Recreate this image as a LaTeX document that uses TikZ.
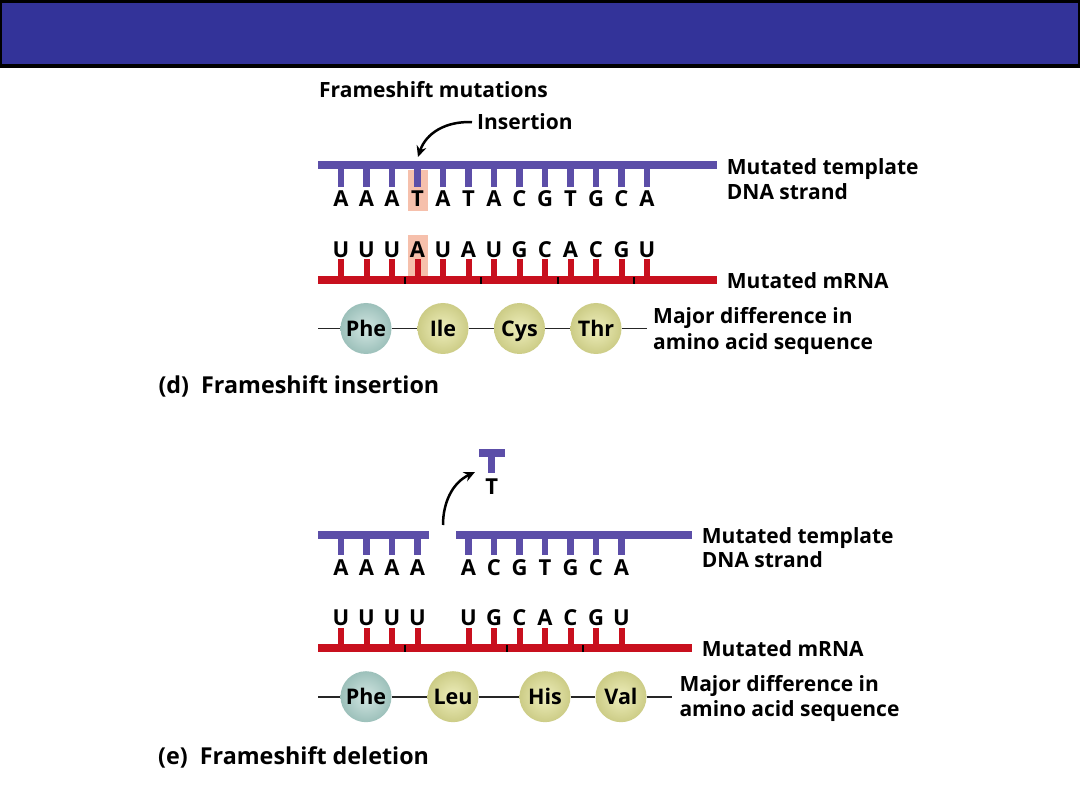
\documentclass[tikz,border=0pt]{standalone}
\usepackage{fontspec}
\setmainfont{Open Sans}
\usetikzlibrary{arrows.meta}
\definecolor{hdrblue}{RGB}{51,51,153}
\definecolor{dnapurple}{RGB}{92,78,168}
\definecolor{rnared}{RGB}{200,16,30}
\definecolor{hilite}{RGB}{246,192,172}
\definecolor{pheIn}{RGB}{210,230,226}
\definecolor{pheOut}{RGB}{156,192,186}
\definecolor{yIn}{RGB}{238,238,188}
\definecolor{yOut}{RGB}{204,204,134}
\begin{document}
\begin{tikzpicture}[x=1pt,y=-1pt,
  lbl/.style={anchor=base west, inner sep=0pt, font=\fontsize{21}{25}\selectfont\bfseries},
  caption/.style={anchor=base west, inner sep=0pt, font=\fontsize{23.3}{27}\selectfont\bfseries},
  basel/.style={anchor=base, inner sep=0pt, font=\fontsize{22}{26}\selectfont\bfseries},
  aa/.style={circle, minimum size=51pt, inner sep=0pt, text height=15.3pt, text depth=0pt,
             font=\fontsize{21.5}{25}\selectfont\bfseries, shading=radial},
  phe/.style={aa, inner color=pheIn, outer color=pheOut},
  aay/.style={aa, inner color=yIn, outer color=yOut},
  bond/.style={line width=1.8pt, draw=black!85},
  dnabar/.style={fill=dnapurple},
  rnabar/.style={fill=rnared},
  dnatick/.style={draw=dnapurple, line width=6.5pt},
  rnatick/.style={draw=rnared, line width=6pt},
  codon/.style={draw=black, line width=1.6pt},
  arr/.style={line width=2.5pt, -{Stealth[length=11pt,width=10pt]}}]

\fill[white] (0,0) rectangle (1080,810);
\useasboundingbox (0,0) rectangle (1080,810);

% header band
\fill[black] (0,0) rectangle (1080,68);
\fill[hdrblue] (2,3) rectangle (1078,64);

% ================= (d) insertion =================
\node[lbl] (title) at (319,98) {Frameshift mutations};
\node[lbl] (ins) at (477,130) {Insertion};

% highlights
\fill[hilite] (407.5,170) rectangle (427.5,211);
\fill[hilite] (407.5,235) rectangle (427.5,276);

% DNA strand
\fill[dnabar] (318,161) rectangle (717,169);
\foreach \b [count=\i from 0] in {A,A,A,T,A,T,A,C,G,T,G,C,A} {
  \pgfmathsetmacro\xx{341+25.5*\i}
  \draw[dnatick] (\xx,169) -- (\xx,187);
  \node[basel] (dI\i) at (\xx,206.7) {\b};
}
% mRNA
\fill[rnabar] (318,276) rectangle (717,284);
\foreach \b [count=\i from 0] in {U,U,U,A,U,A,U,G,C,A,C,G,U} {
  \pgfmathsetmacro\xx{341+25.5*\i}
  \draw[rnatick] (\xx,259) -- (\xx,276);
  \node[basel] (rI\i) at (\xx,257.3) {\b};
}
\foreach \xx in {404.75,481.25,557.75,634.25} {
  \draw[codon] (\xx,277) -- (\xx,284);
}

\coordinate (insArrEnd) at (418,157);
\draw[arr] ([xshift=-5pt]ins.west) .. controls (446,121) and (426,133) .. (insArrEnd);

\node[lbl] (dnaI1) at (726.7,175) {Mutated template};
\node[lbl] (dnaI2) at (726.7,200) {DNA strand};
\node[lbl] (rnaI) at (726.7,288.3) {Mutated mRNA};

% amino acids
\coordinate (iL) at (318,328.5);
\coordinate (iR) at (647,328.5);
\node[phe] (ia1) at (366,328.5) {Phe};
\node[aay] (ia2) at (443,328.5) {Ile};
\node[aay] (ia3) at (519.5,328.5) {Cys};
\node[aay] (ia4) at (596,328.5) {Thr};
\draw[bond] (iL) -- (ia1) (ia1) -- (ia2) (ia2) -- (ia3) (ia3) -- (ia4) (ia4) -- (iR);
\node[lbl] (majI1) at (653,324) {Major difference in};
\node[lbl] (majI2) at (653,350) {amino acid sequence};

\node[caption] (capD) at (158.3,393.3) {(d)\ \ Frameshift insertion};

% ================= (e) deletion =================
% removed T
\fill[dnabar] (479,449) rectangle (505,457);
\draw[dnatick] (491.7,457) -- (491.7,473);
\node[basel] (rmT) at (491.7,494.3) {T};
\coordinate (delArrS) at (443,525);
\coordinate (delArrE) at (475,472);
\draw[arr] (delArrS) .. controls (443,503) and (452,483) .. (delArrE);

% DNA strand
\fill[dnabar] (318,530.5) rectangle (429.3,538.5);
\fill[dnabar] (456,530.5) rectangle (691.7,538.5);
\foreach \b/\i in {A/0,A/1,A/2,A/3,A/5,C/6,G/7,T/8,G/9,C/10,A/11} {
  \pgfmathsetmacro\xx{341+25.5*\i}
  \draw[dnatick] (\xx,538.5) -- (\xx,555);
  \node[basel] (dE\i) at (\xx,575) {\b};
}
% mRNA
\fill[rnabar] (318,644) rectangle (691.7,652);
\foreach \b/\i in {U/0,U/1,U/2,U/3,U/5,G/6,C/7,A/8,C/9,G/10,U/11} {
  \pgfmathsetmacro\xx{341+25.5*\i}
  \draw[rnatick] (\xx,628) -- (\xx,644);
  \node[basel] (rE\i) at (\xx,625) {\b};
}
\foreach \xx in {404.75,506.75,583.25} {
  \draw[codon] (\xx,645) -- (\xx,652);
}

\node[lbl] (dnaE1) at (701.7,543.3) {Mutated template};
\node[lbl] (dnaE2) at (701.7,567.8) {DNA strand};
\node[lbl] (rnaE) at (701.7,656.7) {Mutated mRNA};

% amino acids
\coordinate (eL) at (318,696.7);
\coordinate (eR) at (672,696.7);
\node[phe] (ea1) at (366,696.7) {Phe};
\node[aay] (ea2) at (453,696.7) {Leu};
\node[aay] (ea3) at (545,696.7) {His};
\node[aay] (ea4) at (621,696.7) {Val};
\draw[bond] (eL) -- (ea1) (ea1) -- (ea2) (ea2) -- (ea3) (ea3) -- (ea4) (ea4) -- (eR);
\node[lbl] (majE1) at (679.3,691.7) {Major difference in};
\node[lbl] (majE2) at (679.3,716.7) {amino acid sequence};

\node[caption] (capE) at (158,764) {(e)\ \ Frameshift deletion};
\end{tikzpicture}
\end{document}
